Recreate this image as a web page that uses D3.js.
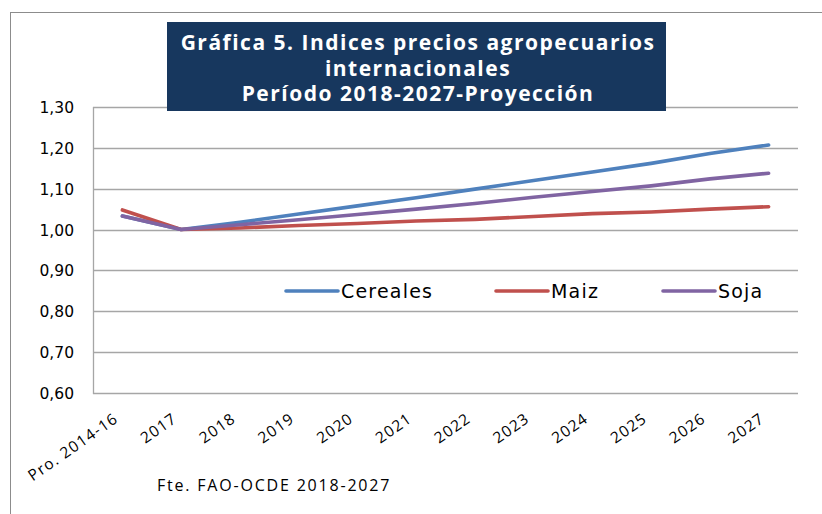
<!DOCTYPE html>
<html>
<head>
<meta charset="utf-8">
<script src="https://cdn.jsdelivr.net/npm/d3@7"></script>
<style>
body{margin:0;background:#fff;}
svg{display:block;}
</style>
</head>
<body>
<script>
var years = ['Pro. 2014-16','2017','2018','2019','2020','2021','2022','2023','2024','2025','2026','2027'];
var cereales = [1.033,1.000,1.018,1.038,1.058,1.078,1.099,1.120,1.141,1.162,1.186,1.207];
var maiz     = [1.048,1.000,1.004,1.010,1.015,1.021,1.025,1.032,1.039,1.043,1.050,1.056];
var soja     = [1.033,1.000,1.012,1.024,1.037,1.050,1.064,1.079,1.093,1.107,1.124,1.138];
var seriesNames = ['Cereales','Maiz','Soja'];
var seriesColors = ['#4F81BD','#C0504D','#8064A2'];
var yTicks = [0.6,0.7,0.8,0.9,1.0,1.1,1.2,1.3];
var titleLines = ['Gráfica 5. Indices precios agropecuarios','internacionales','Período 2018-2027-Proyección'];
var source = 'Fte. FAO-OCDE 2018-2027';

var allSeries = [cereales, maiz, soja];

var svg = d3.select("body").append("svg").attr("width",822).attr("height",514);

// outer frame
svg.append("rect")
    .attr("x",10.5).attr("y",12.5).attr("width",840).attr("height",540)
    .attr("fill","none").attr("stroke","#8c8c8c").attr("stroke-width",1);

var x = d3.scaleBand().domain(years).range([93,798]);
var y = d3.scaleLinear().domain([0.6,1.3]).range([393,107]);

var fmt = function(d){ return d3.format(".2f")(d).replace(".",","); };

// gridlines
svg.selectAll("line.grid")
    .data(yTicks)
    .enter().append("line")
        .attr("class","grid")
        .attr("x1",93).attr("x2",798)
        .attr("y1",function(d){return Math.round(y(d))+0.5;})
        .attr("y2",function(d){return Math.round(y(d))+0.5;})
        .attr("stroke","#a6a6a6").attr("stroke-width",1.3);

svg.append("line")
    .attr("x1",93.5).attr("x2",93.5).attr("y1",y(1.3)).attr("y2",y(0.6)+1)
    .attr("stroke","#a6a6a6").attr("stroke-width",1.3);

// y labels
svg.selectAll("text.ylab")
    .data(yTicks)
    .enter().append("text")
        .attr("class","ylab")
        .attr("x",74)
        .attr("y",function(d){return y(d)+6;})
        .attr("text-anchor","end")
        .attr("font-family","DejaVu Sans")
        .attr("font-size","15.5px")
        .attr("fill","#000")
        .text(fmt);

// x labels
svg.selectAll("text.xlab")
    .data(years)
    .enter().append("text")
        .attr("class","xlab")
        .attr("text-anchor","end")
        .attr("font-family","Open Sans")
        .attr("font-size","15.5px")
        .attr("letter-spacing","1.2px")
        .attr("fill","#000")
        .attr("transform",function(d){
            var cx = x(d) + x.bandwidth()/2 - 3;
            return "translate(" + cx + ",421) rotate(-35)";
        })
        .text(function(d){return d;});

// lines
var line = d3.line()
    .x(function(d,i){return x(years[i]) + x.bandwidth()/2;})
    .y(function(d){return y(d);});

svg.selectAll("path.series")
    .data(allSeries)
    .enter().append("path")
        .attr("class","series")
        .attr("d",line)
        .attr("fill","none")
        .attr("stroke",function(d,i){return seriesColors[i];})
        .attr("stroke-width",3.6)
        .attr("stroke-linecap","round")
        .attr("stroke-linejoin","round");

// legend
var legX = [286,496,663];
var leg = svg.selectAll("g.leg")
    .data(seriesNames)
    .enter().append("g")
        .attr("class","leg")
        .attr("transform",function(d,i){return "translate(" + legX[i] + ",291)";});
leg.append("line")
    .attr("x1",0).attr("x2",52).attr("y1",0).attr("y2",0)
    .attr("stroke",function(d,i){return seriesColors[i];})
    .attr("stroke-width",3.6)
    .attr("stroke-linecap","round");
leg.append("text")
    .attr("x",55).attr("y",7)
    .attr("font-family","DejaVu Sans")
    .attr("font-size","19px")
    .attr("letter-spacing","1.2px")
    .attr("fill","#000")
    .text(function(d){return d;});

// title box
svg.append("rect")
    .attr("x",167).attr("y",22).attr("width",499).attr("height",89)
    .attr("fill","#17375E");
svg.selectAll("text.title")
    .data(titleLines)
    .enter().append("text")
        .attr("class","title")
        .attr("x",418)
        .attr("y",function(d,i){return 50 + i*25.5;})
        .attr("text-anchor","middle")
        .attr("font-family","Open Sans")
        .attr("font-weight","bold")
        .attr("font-size","21px")
        .attr("letter-spacing","1.5px")
        .attr("fill","#fff")
        .text(function(d){return d;});

// source
svg.append("text")
    .attr("x",157).attr("y",491)
    .attr("font-family","Open Sans")
    .attr("font-size","16px")
    .attr("letter-spacing","1.8px")
    .attr("fill","#000")
    .text(source);
</script>
</body>
</html>
